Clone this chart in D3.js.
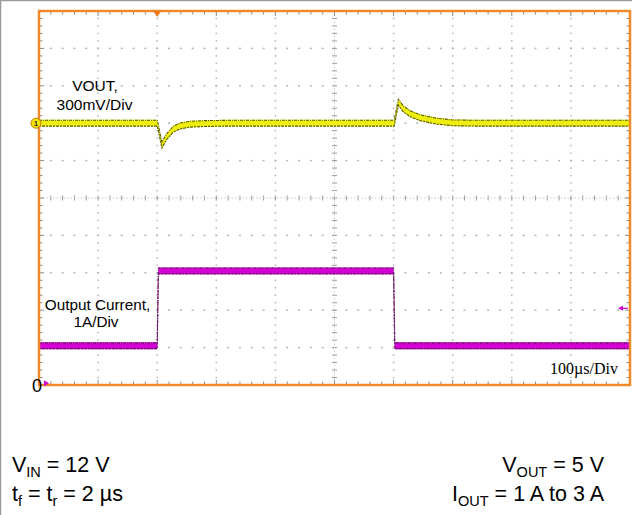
<!DOCTYPE html>
<html><head><meta charset="utf-8">
<script src="https://cdn.jsdelivr.net/npm/d3@7"></script>
<style>body{margin:0;background:#fff} svg{display:block}</style>
</head><body>
<svg id="c" width="632" height="515"></svg>
<script>
// ---- data ----
const timeDomainUs = [0, 1000];           // 10 div x 100 µs/div
const divDomain = [-5, 5];                 // 10 vertical divisions
const voutTimes = [0, 200, 202, 208, 216, 227, 239, 256, 278, 320, 600, 601, 608, 616, 628, 645, 673, 701, 740, 1000];
const voutMv    = [0,   0, -40, -176, -108, -48, -22, -8, -3,  0,   0,   0, 168, 117,  76,  44,  16,   3,   0,    0];
const currentTimes = [0, 200, 202, 600, 602, 1000];
const currentA     = [1,   1,   3,   3,   1,    1];
const voutMvPerDiv = 300;
const voutOffsetDiv = 2;
const currentAPerDiv = 1;
const currentZeroDiv = -4.95;
const triggerTimeUs = 200;
const triggerLevelA = 2;
const labels = {
  vout: ["VOUT,", "300mV/Div"],
  cur: ["Output Current,", "1A/Div"],
  time: "100\u00b5s/Div"
};

// ---- scales ----
const svg = d3.select("#c");
const x = d3.scaleLinear().domain(timeDomainUs).range([39, 630]);
const y = d3.scaleLinear().domain(divDomain).range([385, 11]);
const majorX = d3.range(0, 1001, 100);
const minorX = d3.range(0, 1001, 20);
const majorY = d3.range(-5, 5.01, 1);
const minorY = d3.range(-5, 5.01, 0.2);

// outer border (gray, top & left)
svg.append("line").attr("x1",0.5).attr("x2",0.5).attr("y1",0).attr("y2",515).attr("stroke","#9a9a9a").attr("stroke-width",1.5);
svg.append("line").attr("x1",0).attr("x2",632).attr("y1",0.5).attr("y2",0.5).attr("stroke","#9a9a9a").attr("stroke-width",1.5);

// ---- graticule ----
const g = svg.append("g");
majorX.slice(1,-1).forEach(t => {
  if (t === 500) return;
  minorY.forEach(d => g.append("rect").attr("x", x(t)-0.75).attr("y", y(d)-0.75).attr("width",1.5).attr("height",1.5).attr("fill","#b5b5b5"));
});
majorY.slice(1,-1).forEach(d => {
  if (d === 0) return;
  minorX.forEach(t => g.append("rect").attr("x", x(t)-1).attr("y", y(d)-0.75).attr("width",2).attr("height",1.5).attr("fill","#b5b5b5"));
});
minorY.forEach(d => g.append("line").attr("x1", x(500)-2.5).attr("x2", x(500)+2.5).attr("y1", y(d)).attr("y2", y(d)).attr("stroke","#9a9a9a").attr("stroke-width",1));
minorX.forEach(t => g.append("line").attr("x1", x(t)).attr("x2", x(t)).attr("y1", y(0)-2.5).attr("y2", y(0)+2.5).attr("stroke","#9a9a9a").attr("stroke-width",1));
g.append("line").attr("x1", x(500)).attr("x2", x(500)).attr("y1", y(5)).attr("y2", y(-5)).attr("stroke","#c8c8c8").attr("stroke-dasharray","1.5,2");
g.append("line").attr("x1", x(0)).attr("x2", x(1000)).attr("y1", y(0)).attr("y2", y(0)).attr("stroke","#c8c8c8").attr("stroke-dasharray","1.5,2");
minorX.forEach(t => {
  const L = (t % 100 === 0) ? 5 : 3.5;
  g.append("line").attr("x1", x(t)).attr("x2", x(t)).attr("y1", y(5)).attr("y2", y(5)+L).attr("stroke","#8a8a8a");
  g.append("line").attr("x1", x(t)).attr("x2", x(t)).attr("y1", y(-5)).attr("y2", y(-5)-L).attr("stroke","#8a8a8a");
});
minorY.forEach(d => {
  const L = (Math.abs(d - Math.round(d)) < 1e-6) ? 5 : 3.5;
  g.append("line").attr("x1", x(0)).attr("x2", x(0)+L).attr("y1", y(d)).attr("y2", y(d)).attr("stroke","#8a8a8a");
  g.append("line").attr("x1", x(1000)).attr("x2", x(1000)-L).attr("y1", y(d)).attr("y2", y(d)).attr("stroke","#8a8a8a");
});

// ---- traces ----
const half = 3.4;
function drawTrace(times, vals, toDiv, fill, edge) {
  const pts = times.map((t,i) => [x(t), y(toDiv(vals[i]))]);
  const area = d3.area().x(p => p[0]).y0(p => p[1] + half).y1(p => p[1] - half);
  const lineTop = d3.line().x(p => p[0]).y(p => p[1] - half + 0.5);
  const lineBot = d3.line().x(p => p[0]).y(p => p[1] + half - 0.5);
  svg.append("path").attr("d", area(pts)).attr("fill", fill);
  svg.append("path").attr("d", lineTop(pts)).attr("fill","none").attr("stroke", edge).attr("stroke-width",1.1).attr("stroke-dasharray","3,1,1,1");
  svg.append("path").attr("d", lineBot(pts)).attr("fill","none").attr("stroke", edge).attr("stroke-width",1.1).attr("stroke-dasharray","2,1,3,1");
}
drawTrace(voutTimes, voutMv, v => voutOffsetDiv + v / voutMvPerDiv, "#eeee10", "#5a5a10");
drawTrace(currentTimes, currentA, a => currentZeroDiv + a / currentAPerDiv, "#d400d4", "#6a1a6a");

// ---- frame ----
svg.append("rect").attr("x", x(0)).attr("y", y(5)).attr("width", x(1000)-x(0)).attr("height", y(-5)-y(5))
  .attr("fill","none").attr("stroke","#ee8a2a").attr("stroke-width",2.5);

const tx = x(triggerTimeUs);
svg.append("path").attr("d", `M${tx-4},${y(5)} L${tx+4},${y(5)} L${tx},${y(5)+6} Z`).attr("fill","#ee7a1a");
svg.append("circle").attr("cx", 36).attr("cy", y(voutOffsetDiv)).attr("r", 5).attr("fill","#f4e400").attr("stroke","#c08000").attr("stroke-width",1);
svg.append("text").attr("x", 36).attr("y", y(voutOffsetDiv)+3).attr("text-anchor","middle").attr("font-family","Liberation Sans, Arial, sans-serif").attr("font-size",8).attr("font-weight","bold").attr("fill","#333").text("1");
const gy = y(currentZeroDiv);
svg.append("text").attr("x", 37).attr("y", gy+9).attr("text-anchor","middle").attr("font-family","Liberation Sans, Arial, sans-serif").attr("font-size",18).attr("fill","#000").text("0");
svg.append("path").attr("d", `M44,${gy-3} L49,${gy} L44,${gy+3} Z`).attr("fill","#d400d4");
const ty = y(currentZeroDiv + triggerLevelA / currentAPerDiv);
svg.append("line").attr("x1", 621).attr("x2", 628).attr("y1", ty).attr("y2", ty).attr("stroke","#d400d4").attr("stroke-width",1.2);
svg.append("path").attr("d", `M618,${ty} L623,${ty-2.5} L623,${ty+2.5} Z`).attr("fill","#d400d4");

// ---- labels ----
const sans = "Liberation Sans, Arial, Helvetica, sans-serif";
svg.append("text").attr("x", 95).attr("y", 91).attr("text-anchor","middle").attr("font-family",sans).attr("font-size",15.5).text(labels.vout[0]);
svg.append("text").attr("x", 94.5).attr("y", 110).attr("text-anchor","middle").attr("font-family",sans).attr("font-size",15.5).text(labels.vout[1]);
svg.append("text").attr("x", 97.5).attr("y", 310).attr("text-anchor","middle").attr("font-family",sans).attr("font-size",15.3).text(labels.cur[0]);
svg.append("text").attr("x", 96).attr("y", 327).attr("text-anchor","middle").attr("font-family",sans).attr("font-size",15.3).text(labels.cur[1]);
svg.append("text").attr("x", 618).attr("y", 374).attr("text-anchor","end").attr("font-family","Liberation Serif, Times New Roman, serif").attr("font-size",16).text(labels.time);

function sub(sel, parts) {
  parts.forEach(p => {
    const ts = sel.append("tspan").text(p.t);
    if (p.sub) ts.attr("font-size", 14.5).attr("dy", 5);
    else if (p.after) ts.attr("dy", -5);
  });
}
const fs = 21.5;
const t1 = svg.append("text").attr("x", 12).attr("y", 472).attr("font-family",sans).attr("font-size",fs);
sub(t1, [{t:"V"},{t:"IN",sub:true},{t:" = 12 V",after:true}]);
const t2 = svg.append("text").attr("x", 12).attr("y", 501).attr("font-family",sans).attr("font-size",fs);
sub(t2, [{t:"t"},{t:"f",sub:true},{t:" = t",after:true},{t:"r",sub:true},{t:" = 2 \u00b5s",after:true}]);
const t3 = svg.append("text").attr("x", 604).attr("y", 472).attr("text-anchor","end").attr("font-family",sans).attr("font-size",fs);
sub(t3, [{t:"V"},{t:"OUT",sub:true},{t:" = 5 V",after:true}]);
const t4 = svg.append("text").attr("x", 604).attr("y", 501).attr("text-anchor","end").attr("font-family",sans).attr("font-size",fs);
sub(t4, [{t:"I"},{t:"OUT",sub:true},{t:" = 1 A to 3 A",after:true}]);
</script>
</body></html>
